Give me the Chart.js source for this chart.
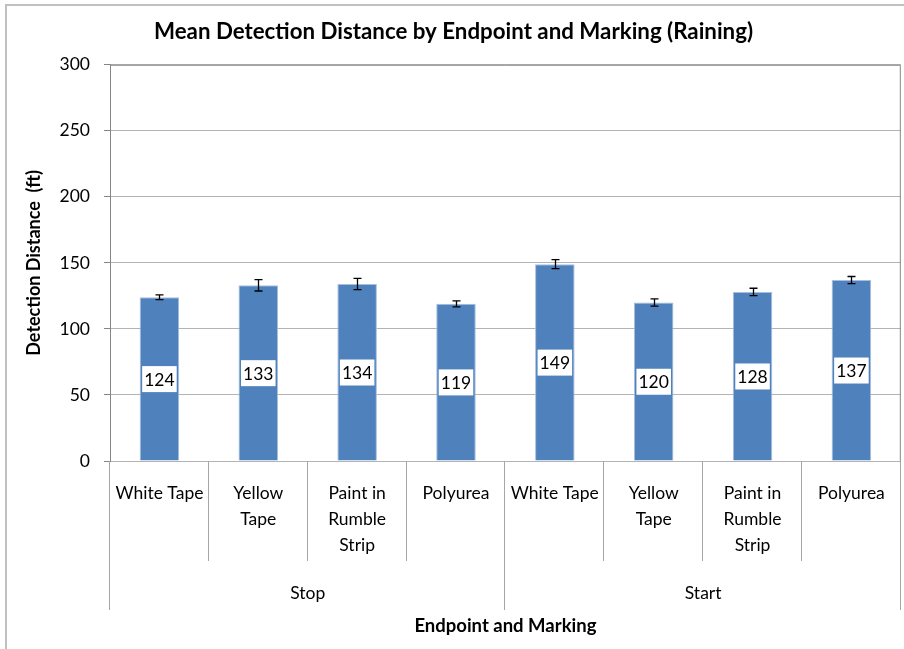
<!DOCTYPE html>
<html>
<head>
<meta charset="utf-8">
<script src="https://cdn.jsdelivr.net/npm/chart.js@4/dist/chart.umd.min.js"></script>
<style>
  html, body { margin: 0; padding: 0; background: #fff; }
  #wrap { width: 904px; height: 649px; position: relative; }
</style>
</head>
<body>
<div id="wrap"><canvas id="detChart" width="904" height="649"></canvas></div>
<script>
// ---- data ----
const markings = [["White Tape"], ["Yellow", "Tape"], ["Paint in", "Rumble", "Strip"], ["Polyurea"],
                  ["White Tape"], ["Yellow", "Tape"], ["Paint in", "Rumble", "Strip"], ["Polyurea"]];
const endpoints = ["Stop", "Start"];
const meanDistance = [124, 133, 134, 119, 149, 120, 128, 137];
const errDistance = [1.8, 4.3, 4.2, 2.3, 3.4, 2.7, 2.8, 2.7];

const FONT = "Lato, 'Open Sans', sans-serif";

// outer frame, plot border, group dividers, error bars and value boxes
const extras = {
    id: "extras",
    beforeDraw(chart) {
        const ctx = chart.ctx;
        ctx.save();
        ctx.fillStyle = "#fff";
        ctx.fillRect(0, 0, chart.width, chart.height);
        ctx.strokeStyle = "#c0c0c0";
        ctx.lineWidth = 2;
        ctx.beginPath();
        ctx.moveTo(6, chart.height);
        ctx.lineTo(6, 5);
        ctx.lineTo(chart.width, 5);
        ctx.stroke();
        ctx.restore();
    },
    afterDraw(chart) {
        const ctx = chart.ctx;
        const a = chart.chartArea;
        const n = markings.length;
        const step = (a.right - a.left) / n;
        ctx.save();
        // plot border (top/right)
        ctx.strokeStyle = "#868686";
        ctx.lineWidth = 1;
        ctx.beginPath();
        ctx.moveTo(a.left, a.top + 0.5);
        ctx.lineTo(a.right - 0.5, a.top + 0.5);
        ctx.lineTo(a.right - 0.5, a.bottom);
        ctx.stroke();
        // category dividers
        ctx.strokeStyle = "#a6a6a6";
        for (let i = 0; i <= n; i++) {
            const px = Math.round(a.left + i * step) - 0.5;
            const long = (i === 0 || i === n || i === n / 2);
            ctx.beginPath();
            ctx.moveTo(px, a.bottom);
            ctx.lineTo(px, a.bottom + (long ? 149 : 100));
            ctx.stroke();
        }
        // group labels
        ctx.fillStyle = "#000";
        ctx.font = "17.5px " + FONT;
        ctx.textAlign = "center";
        ctx.textBaseline = "middle";
        const half = (a.right - a.left) / endpoints.length;
        endpoints.forEach((g, i) => {
            ctx.fillText(g, a.left + half * (i + 0.5), a.bottom + 132);
        });
        // error bars and value boxes
        const y = chart.scales.y;
        const meta = chart.getDatasetMeta(0);
        meta.data.forEach((bar, i) => {
            const v = meanDistance[i];
            const e = errDistance[i];
            const cx = Math.round(bar.x) + 0.5;
            const yHi = y.getPixelForValue(v + e);
            const yLo = y.getPixelForValue(v - e);
            ctx.strokeStyle = "#000";
            ctx.lineWidth = 1.3;
            ctx.beginPath();
            ctx.moveTo(cx, yHi); ctx.lineTo(cx, yLo);
            ctx.moveTo(cx - 4, yHi); ctx.lineTo(cx + 4, yHi);
            ctx.moveTo(cx - 4, yLo); ctx.lineTo(cx + 4, yLo);
            ctx.stroke();

            const cy = y.getPixelForValue(v / 2);
            ctx.font = "17.5px " + FONT;
            const w = Math.min(ctx.measureText(String(v)).width + 8, bar.width - 5);
            ctx.fillStyle = "#fff";
            ctx.fillRect(bar.x - w / 2, cy - 13, w, 26);
            ctx.fillStyle = "#000";
            ctx.fillText(String(v), bar.x, cy + 1);
        });
        ctx.restore();
    }
};

new Chart(document.getElementById("detChart"), {
    type: "bar",
    data: {
        labels: markings,
        datasets: [{
            label: "Mean Detection Distance",
            data: meanDistance,
            backgroundColor: "#4F81BD",
            borderColor: "#A7BFDE",
            borderWidth: 1,
            categoryPercentage: 1,
            barPercentage: 0.4
        }]
    },
    options: {
        responsive: false,
        animation: false,
        layout: { padding: { left: 6, right: 3, top: 0, bottom: 0 } },
        plugins: {
            legend: { display: false },
            tooltip: { enabled: false },
            title: {
                display: true,
                text: "Mean Detection Distance by Endpoint and Marking (Raining)",
                color: "#000",
                font: { family: FONT, size: 22.3, weight: "bold", lineHeight: 1.2 },
                padding: { top: 18, bottom: 20 }
            }
        },
        scales: {
            x: {
                grid: { display: false, drawTicks: false },
                border: { display: false },
                ticks: {
                    color: "#000",
                    font: { family: FONT, size: 17.5, lineHeight: "26px" },
                    padding: 19,
                    maxRotation: 0,
                    autoSkip: false
                },
                title: {
                    display: true,
                    text: "Endpoint and Marking",
                    color: "#000",
                    font: { family: FONT, size: 18.5, weight: "bold" },
                    padding: { top: 0, bottom: 12 }
                },
                afterFit(scale) { scale.height = 188; }
            },
            y: {
                min: 0,
                max: 300,
                ticks: {
                    stepSize: 50,
                    color: "#000",
                    font: { family: FONT, size: 17.5 },
                    padding: 14
                },
                grid: { color: "#b3b3b3", tickLength: 6, tickColor: "#868686" },
                border: { color: "#868686" },
                title: {
                    display: true,
                    text: "Detection Distance  (ft)",
                    color: "#000",
                    font: { family: FONT, size: 18, weight: "bold" },
                    padding: { top: 17, bottom: 0 }
                },
                afterFit(scale) { scale.width = 104; }
            }
        }
    },
    plugins: [extras]
});
</script>
</body>
</html>
